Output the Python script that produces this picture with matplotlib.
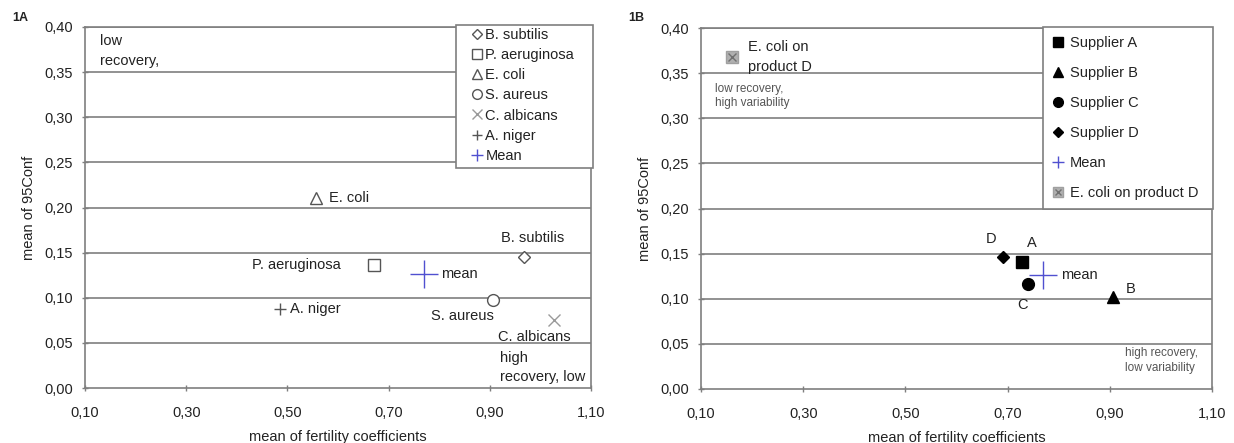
import matplotlib
matplotlib.use("Agg")
import matplotlib.pyplot as plt
from matplotlib.lines import Line2D
from matplotlib.patches import Rectangle

plt.rcParams["font.family"] = ["Liberation Sans", "DejaVu Sans"]
plt.rcParams["font.size"] = 10.5

# Panel 1A: organisms
org_names = ["B. subtilis", "P. aeruginosa", "E. coli", "S. aureus", "C. albicans", "A. niger"]
org_x = [0.967, 0.672, 0.557, 0.906, 1.027, 0.486]
org_y = [0.145, 0.136, 0.211, 0.098, 0.075, 0.088]
org_markers = ["D", "s", "^", "o", "x", "+"]
mean_a = (0.769, 0.126)

# Panel 1B: suppliers
sup_names = ["Supplier A", "Supplier B", "Supplier C", "Supplier D"]
sup_short = ["A", "B", "C", "D"]
sup_x = [0.728, 0.906, 0.740, 0.691]
sup_y = [0.141, 0.102, 0.116, 0.146]
sup_markers = ["s", "^", "o", "D"]
mean_b = (0.769, 0.126)
ecoli_d = (0.161, 0.368)

xticks = [0.10, 0.30, 0.50, 0.70, 0.90, 1.10]
yticks = [0.00, 0.05, 0.10, 0.15, 0.20, 0.25, 0.30, 0.35, 0.40]

GRID = "#7f7f7f"
TXT = "#222222"
MEAN_C = "#5050d0"

W, H = 1234, 443
fig = plt.figure(figsize=(W / 100, H / 100), dpi=100)
ax_a = fig.add_axes([85 / W, (H - 388) / H, (591 - 85) / W, (388 - 27) / H])
ax_b = fig.add_axes([701 / W, (H - 389) / H, (1212 - 701) / W, (389 - 28) / H])


def style_axes(ax):
    ax.set_xlim(0.10, 1.10)
    ax.set_ylim(0.0, 0.40)
    ax.set_xticks(xticks)
    ax.set_yticks(yticks)
    ax.set_xticklabels([f"{v:.2f}".replace(".", ",") for v in xticks], color=TXT)
    ax.set_yticklabels([f"{v:.2f}".replace(".", ",") for v in yticks], color=TXT)
    ax.tick_params(direction="inout", length=5, color=GRID, width=1, labelsize=10.5)
    ax.tick_params(axis="x", pad=10.5)
    ax.tick_params(axis="y", pad=6)
    for v in yticks[1:]:
        ax.axhline(v, color=GRID, lw=1.2, zorder=1)
    for s in ax.spines.values():
        s.set_color(GRID)
        s.set_linewidth(1.2)
    ax.set_xlabel("mean of fertility coefficients", color=TXT, fontsize=10.5, labelpad=7)
    ax.set_ylabel("mean of 95Conf", color=TXT, fontsize=10.5, labelpad=6)


style_axes(ax_a)
style_axes(ax_b)


def legend_box(ax, x0, y0, x1, y1):
    r = Rectangle((x0, y0), x1 - x0, y1 - y0, transform=ax.transAxes, facecolor="white",
                  edgecolor=GRID, lw=1.2, zorder=5, clip_on=False)
    ax.add_patch(r)


# ---- 1A ----
handles_a = []
for name, x, y, m in zip(org_names, org_x, org_y, org_markers):
    ms = 6.5 if m == "D" else 8.5
    col = "#9a9a9a" if m == "x" else "#555555"
    ax_a.plot(x, y, marker=m, ms=ms, mfc="white", mec=col, mew=1, ls="none", zorder=3)
    handles_a.append(Line2D([], [], marker=m, ms=ms - 1.5, mfc="white", mec=col, mew=1,
                            ls="none", label=name))
ax_a.plot(*mean_a, marker="+", ms=20, mec=MEAN_C, mew=1, ls="none", zorder=3)
handles_a.append(Line2D([], [], marker="+", ms=8, mec=MEAN_C, mew=1, ls="none", label="Mean"))

legend_box(ax_a, 0.733, 0.609, 1.003, 1.005)
leg_a = ax_a.legend(handles=handles_a, loc="upper left", bbox_to_anchor=(0.761, 0.997),
                    frameon=False, borderpad=0, borderaxespad=0, labelspacing=0.42,
                    handlelength=1.0, handletextpad=0.05, fontsize=10.5)
leg_a.set_zorder(6)
for t in leg_a.get_texts():
    t.set_color(TXT)

ax_a.text(0.557 + 0.025, 0.211, "E. coli", va="center", ha="left", color=TXT)
ax_a.text(0.605, 0.136, "P. aeruginosa", va="center", ha="right", color=TXT)
ax_a.text(0.769 + 0.035, 0.126, "mean", va="center", ha="left", color=TXT)
ax_a.text(0.985, 0.158, "B. subtilis", va="bottom", ha="center", color=TXT)
ax_a.text(0.908, 0.088, "S. aureus", va="top", ha="right", color=TXT)
ax_a.text(0.916, 0.064, "C. albicans", va="top", ha="left", color=TXT)
ax_a.text(0.486 + 0.02, 0.088, "A. niger", va="center", ha="left", color=TXT)
ax_a.text(0.13, 0.392, "low\nrecovery,", va="top", ha="left", color=TXT, linespacing=1.5)
ax_a.text(0.92, 0.041, "high\nrecovery, low", va="top", ha="left", color=TXT, linespacing=1.5)

# ---- 1B ----
handles_b = []
for name, x, y, m in zip(sup_names, sup_x, sup_y, sup_markers):
    ms = 6.5 if m == "D" else 8.5
    ax_b.plot(x, y, marker=m, ms=ms, mfc="black", mec="black", ls="none", zorder=3)
    handles_b.append(Line2D([], [], marker=m, ms=ms - 1.5, mfc="black", mec="black",
                            ls="none", label=name))
ax_b.plot(*mean_b, marker="+", ms=20, mec=MEAN_C, mew=1, ls="none", zorder=3)
handles_b.append(Line2D([], [], marker="+", ms=8, mec=MEAN_C, mew=1, ls="none", label="Mean"))
ax_b.plot(*ecoli_d, marker="s", ms=8.5, mfc="#b0b0b0", mec="#a0a0a0", ls="none", zorder=3)
ax_b.plot(*ecoli_d, marker="x", ms=6, mec="#707070", mew=1, ls="none", zorder=4)
h_sq = Line2D([], [], marker="s", ms=6.5, mfc="#b0b0b0", mec="#a0a0a0", ls="none")
h_x = Line2D([], [], marker="x", ms=5, mec="#707070", mew=1, ls="none")
handles_b.append((h_sq, h_x))
labels_b = sup_names + ["Mean", "E. coli on product D"]

legend_box(ax_b, 0.669, 0.499, 1.002, 1.003)
leg_b = ax_b.legend(handles=handles_b, labels=labels_b, loc="upper left",
                    bbox_to_anchor=(0.687, 0.978), frameon=False, borderpad=0,
                    borderaxespad=0, labelspacing=1.1, handlelength=0.8,
                    handletextpad=0.4, fontsize=10.5)
leg_b.set_zorder(6)
for t in leg_b.get_texts():
    t.set_color(TXT)

for s, x, y in zip(sup_short, sup_x, sup_y):
    if s == "A":
        ax_b.text(x + 0.02, y + 0.013, s, ha="center", va="bottom", color=TXT)
    elif s == "B":
        ax_b.text(x + 0.035, y + 0.009, s, ha="center", va="center", color=TXT)
    elif s == "C":
        ax_b.text(x - 0.01, y - 0.015, s, ha="center", va="top", color=TXT)
    else:
        ax_b.text(x - 0.023, y + 0.012, s, ha="center", va="bottom", color=TXT)
ax_b.text(0.769 + 0.035, 0.126, "mean", va="center", ha="left", color=TXT)
ax_b.text(0.192, 0.368, "E. coli on\nproduct D", va="center", ha="left", color=TXT,
          linespacing=1.5)
ax_b.text(0.128, 0.339, "low recovery,\nhigh variability", va="top", ha="left",
          color="#555555", fontsize=8.5, linespacing=1.25)
ax_b.text(0.93, 0.046, "high recovery,\nlow variability", va="top", ha="left",
          color="#555555", fontsize=8.5, linespacing=1.25)

fig.text(12 / W, 1 - 18 / H, "1A", fontsize=9, fontweight="bold", color=TXT, va="center")
fig.text(628 / W, 1 - 18 / H, "1B", fontsize=9, fontweight="bold", color=TXT, va="center")

fig.savefig("out.png", dpi=100)
